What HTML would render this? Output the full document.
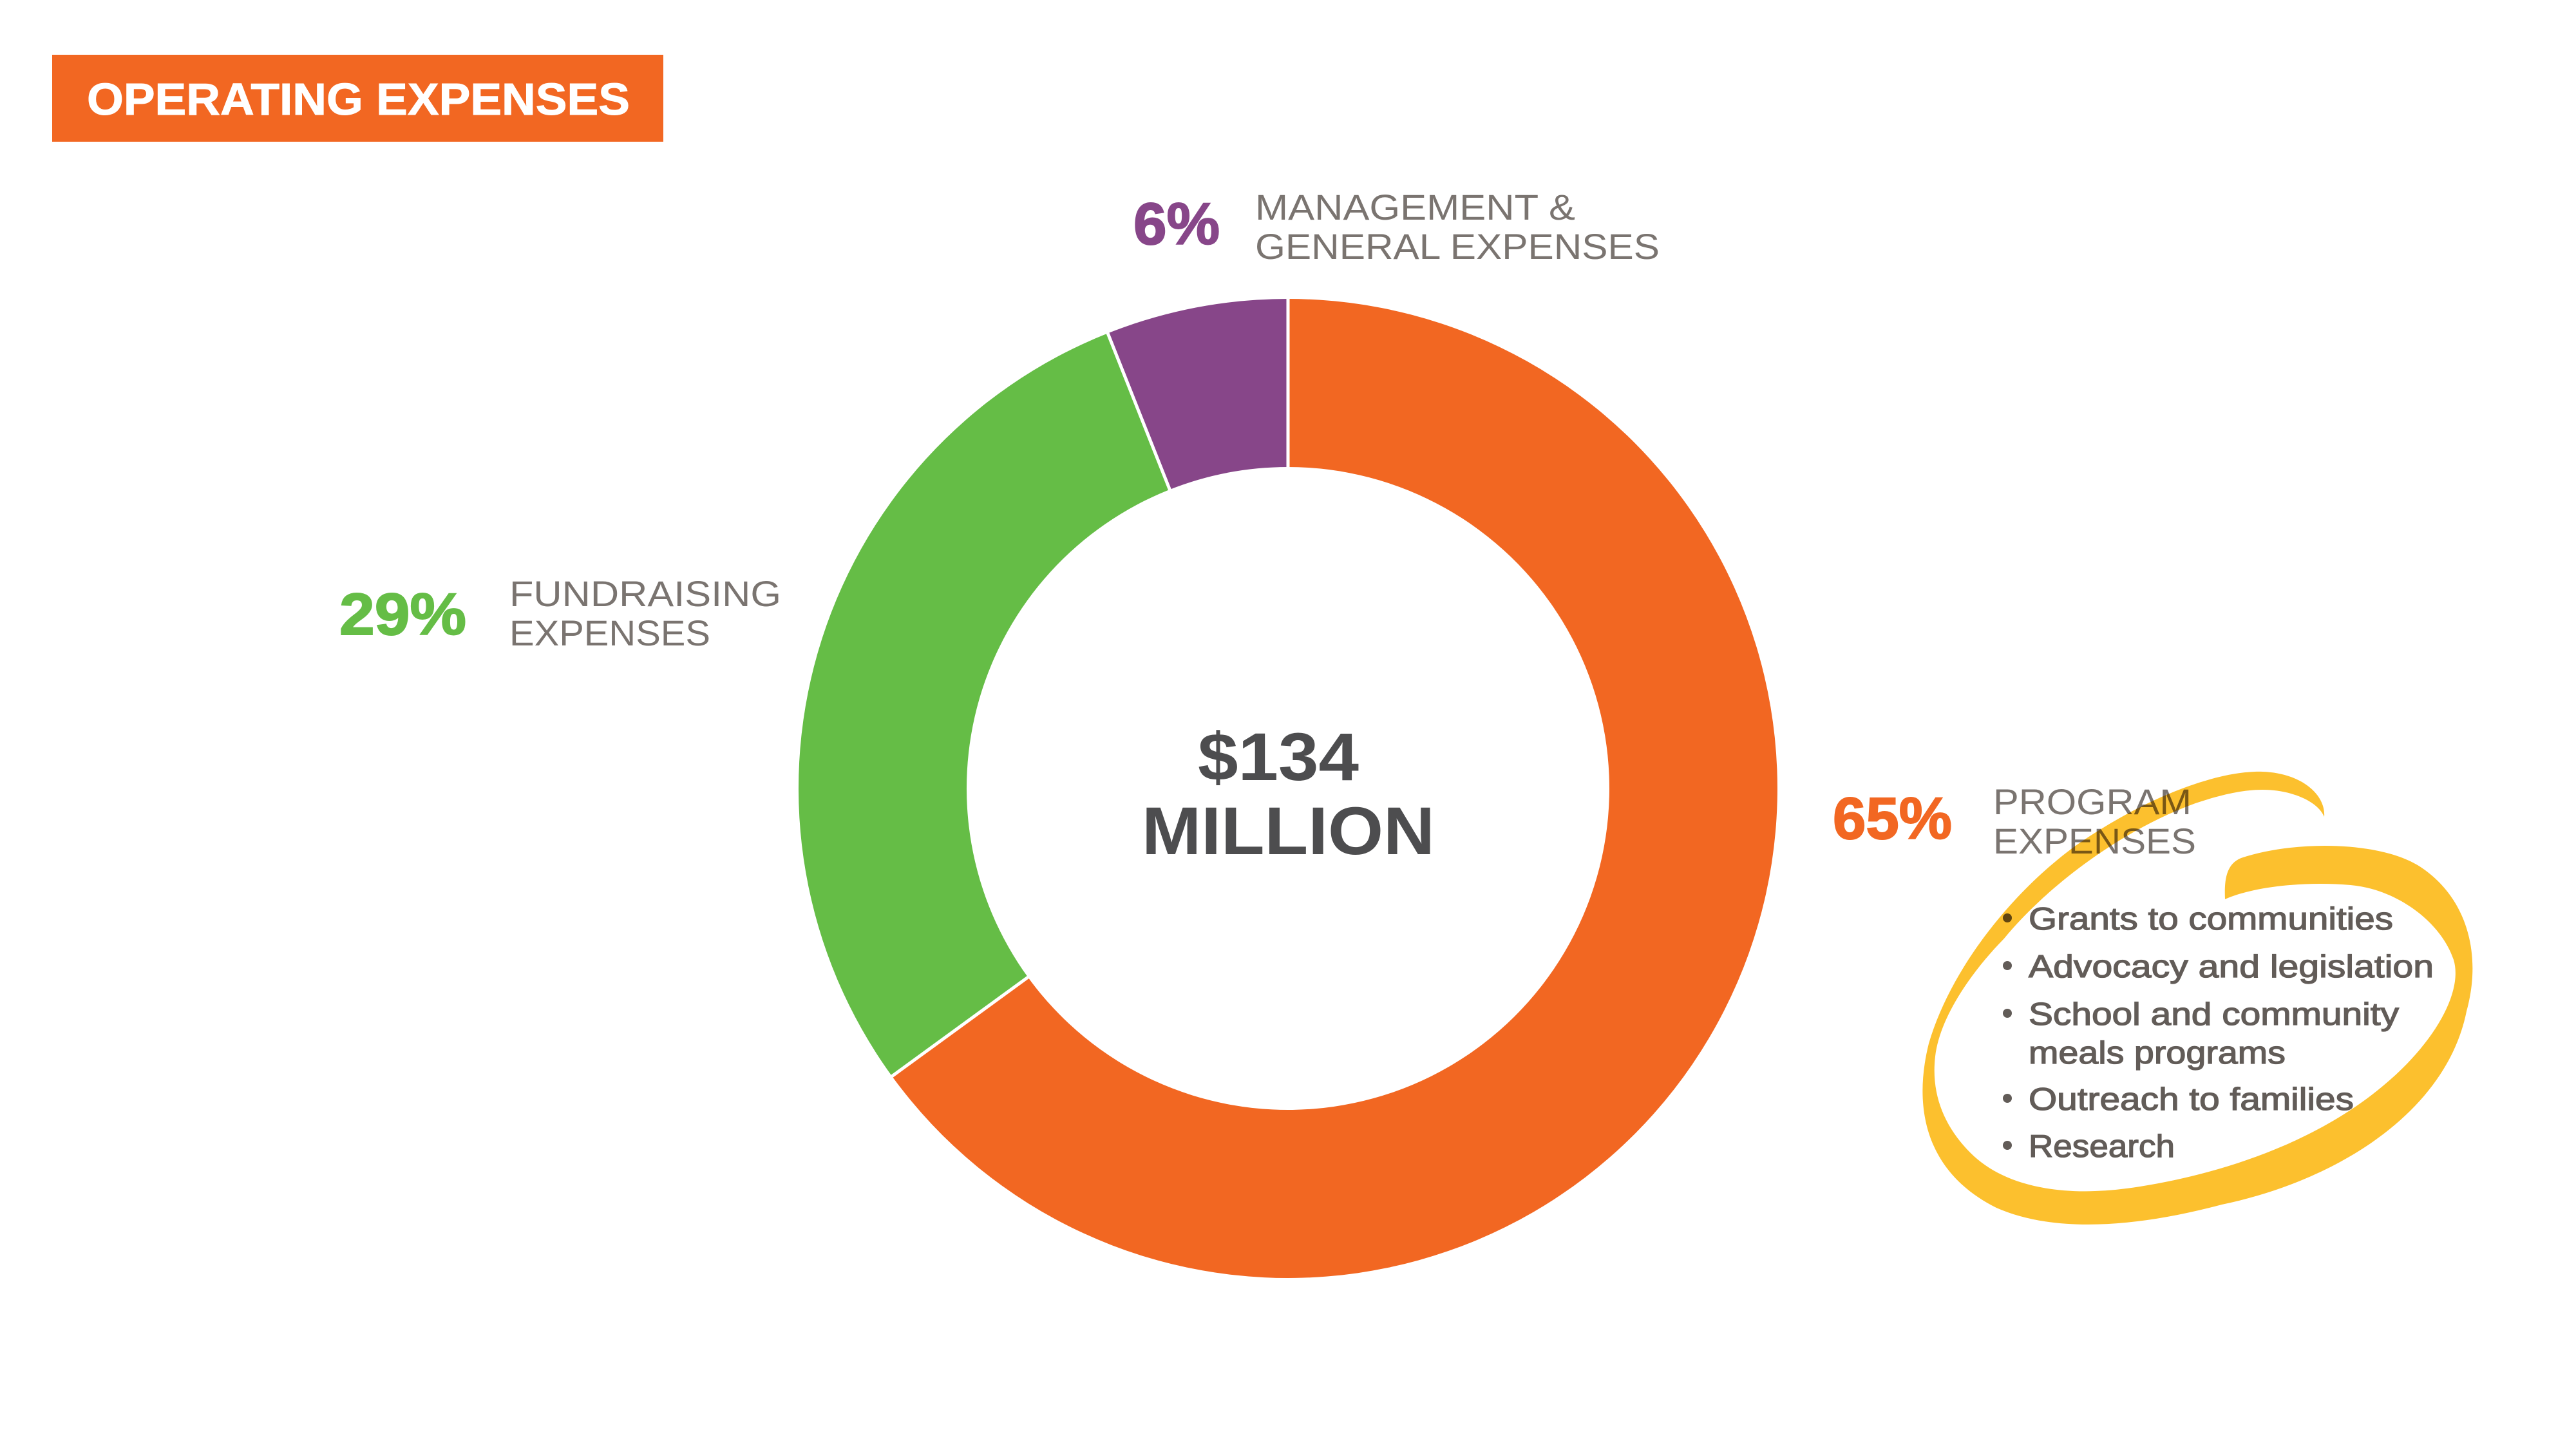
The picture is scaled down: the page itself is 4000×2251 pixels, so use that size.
<!DOCTYPE html>
<html>
<head>
<meta charset="utf-8">
<style>
  html, body { margin: 0; padding: 0; background: #ffffff; }
  body { width: 4000px; height: 2251px; overflow: hidden; }
  svg { display: block; }
  .lbl { font-family: "Liberation Sans", sans-serif; font-size: 56px; fill: #7a7470; }
  .pct { font-family: "Liberation Sans", sans-serif; font-weight: bold; font-size: 92px; }
  .li  { font-family: "Liberation Sans", sans-serif; font-size: 49px; fill: #625c58; stroke: #625c58; stroke-width: 1.3px; }
  .ctr { font-family: "Liberation Sans", sans-serif; font-weight: bold; font-size: 105px; fill: #4d4d4f; }
</style>
</head>
<body>
<svg width="4000" height="2251" viewBox="0 0 4000 2251" xmlns="http://www.w3.org/2000/svg">
  <rect x="0" y="0" width="4000" height="2251" fill="#ffffff"/>

  <!-- Title box -->
  <rect x="81" y="85" width="949" height="135" fill="#f26722"/>
  <text x="135" y="178" font-family="Liberation Sans, sans-serif" font-weight="bold" font-size="70" fill="#ffffff" stroke="#ffffff" stroke-width="1" textLength="843" lengthAdjust="spacingAndGlyphs">OPERATING EXPENSES</text>

  <!-- Donut -->
  <path d="M 2000 464 A 760 760 0 1 1 1385.1 1670.7 L 1596.3 1517.3 A 499 499 0 1 0 2000 725 Z" fill="#f26722"/>
  <path d="M 1385.1 1670.7 A 760 760 0 0 1 1720.2 517.4 L 1816.3 760 A 499 499 0 0 0 1596.3 1517.3 Z" fill="#65bd46"/>
  <path d="M 1720.2 517.4 A 760 760 0 0 1 2000 464 L 2000 725 A 499 499 0 0 0 1816.3 760 Z" fill="#874689"/>
  <g stroke="#ffffff" stroke-width="5">
    <line x1="2000" y1="460" x2="2000" y2="729"/>
    <line x1="1382" y1="1673" x2="1599" y2="1515"/>
    <line x1="1718.7" y1="513.7" x2="1817.8" y2="763.7"/>
  </g>

  <!-- Center text -->
  <text class="ctr" x="1860" y="1211" textLength="250" lengthAdjust="spacingAndGlyphs">$134</text>
  <text class="ctr" x="1773" y="1326" textLength="455" lengthAdjust="spacingAndGlyphs">MILLION</text>

  <!-- 6% Management -->
  <text class="pct" x="1760" y="379" fill="#874689" stroke="#874689" stroke-width="2" textLength="134" lengthAdjust="spacingAndGlyphs">6%</text>
  <text class="lbl" x="1949" y="341" textLength="497" lengthAdjust="spacingAndGlyphs">MANAGEMENT &amp;</text>
  <text class="lbl" x="1949" y="402" textLength="628" lengthAdjust="spacingAndGlyphs">GENERAL EXPENSES</text>

  <!-- 29% Fundraising -->
  <text class="pct" x="527" y="985" fill="#65bd46" stroke="#65bd46" stroke-width="2" textLength="197" lengthAdjust="spacingAndGlyphs">29%</text>
  <text class="lbl" x="791" y="941" textLength="422" lengthAdjust="spacingAndGlyphs">FUNDRAISING</text>
  <text class="lbl" x="791" y="1002" textLength="312" lengthAdjust="spacingAndGlyphs">EXPENSES</text>

  <!-- 65% Program -->
  <text class="pct" x="2846" y="1302" fill="#f26722" stroke="#f26722" stroke-width="2" textLength="185" lengthAdjust="spacingAndGlyphs">65%</text>
  <text class="lbl" x="3095" y="1264" textLength="308" lengthAdjust="spacingAndGlyphs">PROGRAM</text>
  <text class="lbl" x="3095" y="1325" textLength="315" lengthAdjust="spacingAndGlyphs">EXPENSES</text>

  <!-- Bullet list -->
  <g fill="#625c58">
    <circle cx="3117" cy="1425" r="7"/>
    <circle cx="3117" cy="1499" r="7"/>
    <circle cx="3117" cy="1573" r="7"/>
    <circle cx="3117" cy="1705" r="7"/>
    <circle cx="3117" cy="1778" r="7"/>
  </g>
  <text class="li" x="3150" y="1443" textLength="566" lengthAdjust="spacingAndGlyphs">Grants to communities</text>
  <text class="li" x="3150" y="1517" textLength="629" lengthAdjust="spacingAndGlyphs">Advocacy and legislation</text>
  <text class="li" x="3150" y="1591" textLength="575" lengthAdjust="spacingAndGlyphs">School and community</text>
  <text class="li" x="3150" y="1651" textLength="399" lengthAdjust="spacingAndGlyphs">meals programs</text>
  <text class="li" x="3150" y="1723" textLength="505" lengthAdjust="spacingAndGlyphs">Outreach to families</text>
  <text class="li" x="3150" y="1796" textLength="227" lengthAdjust="spacingAndGlyphs">Research</text>

  <!-- Yellow brush swoosh (multiply over text) -->
  <path style="mix-blend-mode: multiply" fill="#fcc02e" d="
    M 3609 1268
    C 3612 1235, 3575 1200, 3513 1198
    C 3440 1196, 3330 1240, 3230 1308
    C 3130 1378, 3030 1500, 2995 1620
    C 2970 1720, 2990 1820, 3100 1875
    C 3190 1915, 3320 1905, 3450 1870
    C 3640 1830, 3800 1720, 3830 1570
    C 3855 1480, 3830 1390, 3754 1343
    C 3690 1305, 3560 1305, 3480 1332
    C 3455 1342, 3454 1370, 3455 1396
    C 3500 1376, 3580 1368, 3650 1374
    C 3720 1380, 3790 1430, 3810 1490
    C 3825 1540, 3780 1620, 3700 1686
    C 3600 1770, 3460 1820, 3323 1842
    C 3200 1862, 3110 1840, 3060 1790
    C 3020 1750, 2998 1700, 3005 1640
    C 3012 1580, 3060 1510, 3112 1457
    C 3175 1380, 3290 1290, 3409 1247
    C 3445 1235, 3480 1226, 3513 1226
    C 3560 1226, 3600 1245, 3609 1268 Z"/>
</svg>
</body>
</html>
